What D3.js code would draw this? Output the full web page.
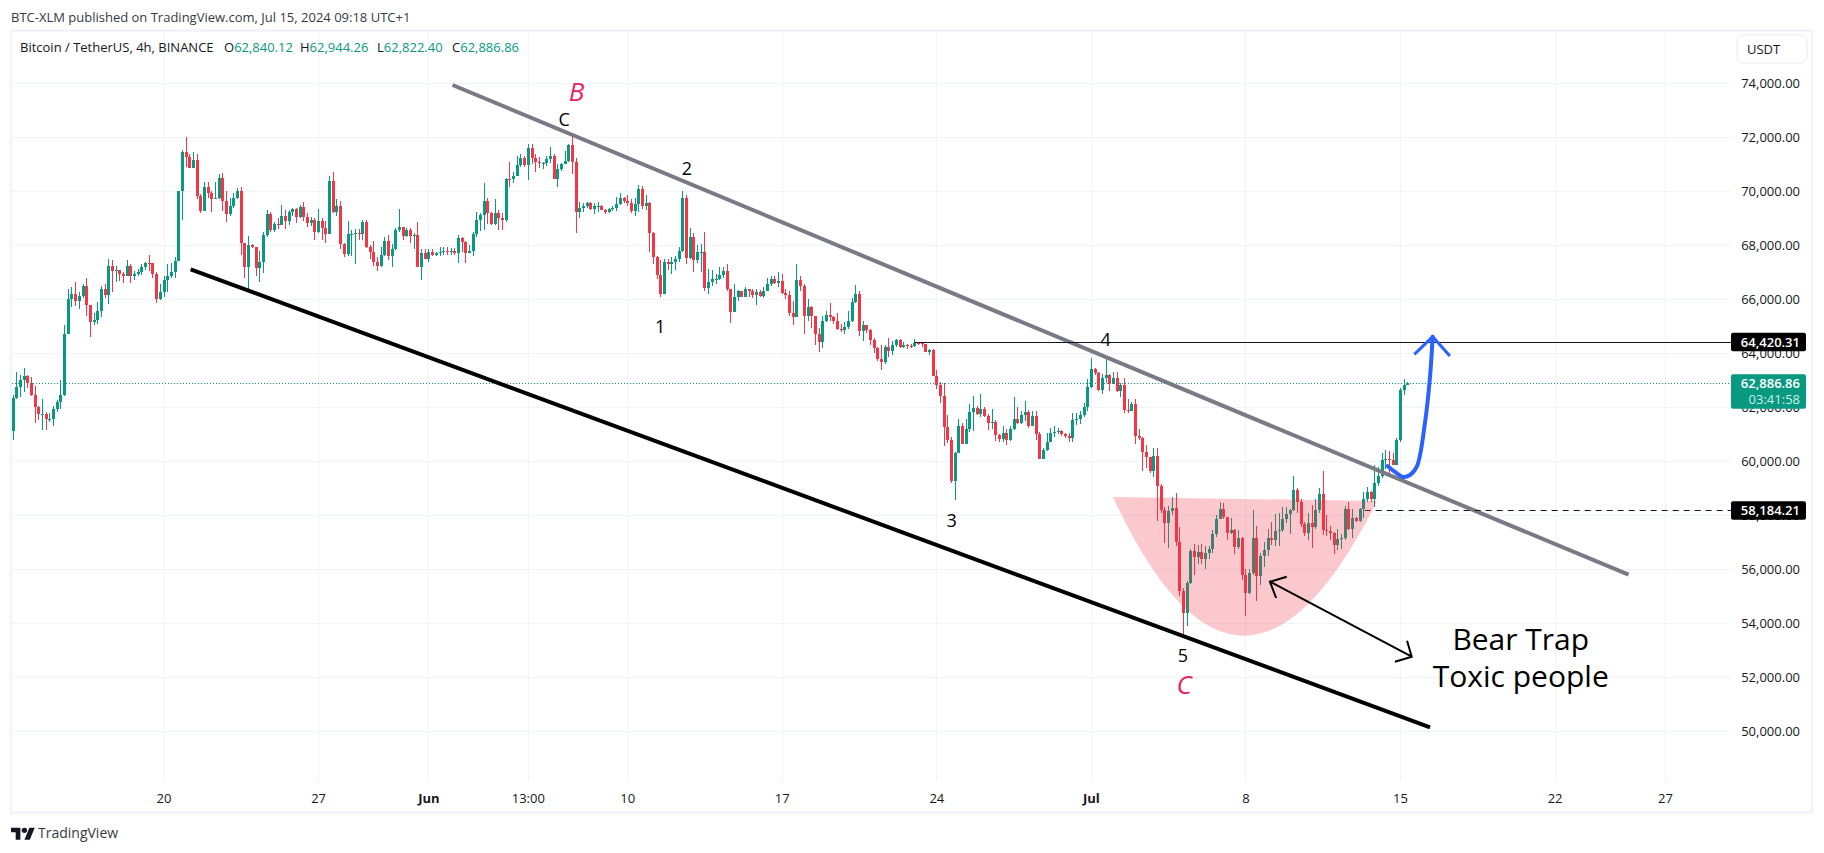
<!DOCTYPE html>
<html>
<head>
<meta charset="utf-8">
<title>BTCUSDT 4h</title>
<script src="https://cdn.jsdelivr.net/npm/d3@7"></script>
<style>
  html, body { margin: 0; padding: 0; background: #fff; }
  svg { display: block; font-family: "Open Sans", sans-serif; }
</style>
</head>
<body>
<svg id="chart" width="1824" height="853"></svg>
<script>
// 4h candles, in thousands of USDT. One bar per 4 hours from firstBar.
const firstBar = Date.UTC(2024, 4, 13, 4);
const firstOpen = 61.14;
const closes = [
  62.33,62.74,63.00,63.16,62.90,62.46,62.02,61.75,61.77,61.58,
  61.58,61.93,62.20,62.44,64.72,66.00,66.20,65.95,66.12,66.50,
  65.80,65.17,65.23,65.55,66.38,66.16,67.22,67.06,67.09,66.94,
  66.88,67.22,66.85,66.95,67.00,67.18,67.35,67.33,66.92,66.00,
  66.28,66.70,66.85,67.00,67.43,70.02,71.44,71.28,70.87,71.16,
  69.84,69.27,70.15,69.94,69.72,69.74,70.50,69.65,69.16,69.44,
  69.74,70.02,68.09,67.20,68.00,67.92,67.17,67.40,68.37,69.16,
  68.55,68.79,68.77,69.10,68.91,69.22,69.33,69.06,69.41,69.04,
  68.83,68.94,68.50,68.90,68.65,68.42,70.37,69.25,69.44,68.05,
  67.68,68.42,68.42,68.44,68.41,68.85,67.95,67.74,67.39,67.25,
  67.65,68.17,67.62,67.86,68.57,68.67,68.34,68.57,68.33,68.38,
  67.20,67.72,67.51,67.76,67.65,67.70,67.77,67.80,67.78,67.80,
  67.72,68.28,68.14,67.72,67.80,68.42,68.94,69.12,69.63,69.20,
  68.78,69.20,69.00,68.94,70.46,70.44,70.58,70.98,71.25,70.98,
  71.60,71.25,71.07,71.03,71.05,71.20,71.30,70.46,70.83,71.02,
  71.12,71.72,71.10,69.25,69.37,69.46,69.55,69.35,69.45,69.47,
  69.32,69.25,69.35,69.38,69.52,69.75,69.63,69.57,69.27,69.52,
  70.10,69.47,69.55,68.47,67.55,66.90,66.20,67.40,67.30,67.40,
  67.49,67.78,69.75,67.53,68.32,67.45,67.74,67.76,66.43,66.63,
  66.75,66.75,66.90,67.06,66.38,65.54,66.08,66.30,66.10,66.37,
  66.30,66.15,66.28,66.13,66.32,66.55,66.75,66.60,66.68,66.25,
  66.15,65.50,65.33,66.70,66.50,65.40,65.70,65.37,64.72,64.43,
  65.20,65.42,65.35,65.20,64.90,64.87,64.97,65.20,65.90,66.20,
  64.84,65.03,64.87,64.50,64.20,63.80,63.69,64.25,64.10,64.30,
  64.50,64.25,64.30,64.28,64.26,64.40,64.37,64.33,64.06,64.14,
  63.17,62.83,62.42,61.28,60.79,59.27,60.30,61.30,60.64,61.20,
  61.83,61.99,61.75,61.94,61.69,61.43,61.45,60.98,60.84,61.04,
  60.80,61.19,61.57,61.43,61.70,61.83,61.32,61.68,61.01,60.09,
  60.42,60.73,61.04,61.07,61.12,61.01,60.94,60.88,61.53,61.57,
  61.70,62.02,62.74,63.42,63.26,62.64,63.08,63.20,62.86,63.10,
  62.60,62.83,61.90,61.87,62.12,60.94,60.85,60.33,60.15,59.65,
  60.20,59.10,58.20,57.70,58.17,58.27,57.02,55.20,54.40,55.48,
  56.68,56.44,56.65,56.37,56.60,56.75,57.31,57.87,58.22,57.93,
  57.36,57.46,56.81,57.15,55.80,55.13,55.88,57.15,55.75,56.50,
  56.72,57.15,57.10,57.43,57.45,57.85,58.05,58.20,58.95,58.48,
  57.68,57.35,57.70,57.55,58.20,58.80,57.45,57.42,57.35,56.90,
  57.12,57.17,58.25,57.50,57.90,57.80,58.23,58.60,58.85,58.60,
  59.20,59.45,60.05,60.07,60.05,59.87,60.80,62.64,62.83,62.887
];
const highs = [
  62.46,63.30,63.20,63.46,63.20,63.12,62.80,62.05,62.30,61.82,
  61.78,62.05,62.27,63.00,65.05,66.40,66.44,66.64,66.27,66.57,
  66.78,65.80,65.50,65.90,66.50,66.57,67.50,67.46,67.22,67.10,
  67.00,67.45,67.30,67.05,67.12,67.30,67.37,67.65,67.35,67.00,
  66.57,66.85,67.30,67.35,67.55,70.02,71.53,72.00,71.40,71.45,
  71.40,69.90,70.35,70.35,70.00,70.35,70.65,70.68,70.02,69.75,
  69.95,70.12,70.15,68.10,68.35,68.05,67.95,67.80,68.50,69.30,
  69.25,68.85,69.00,69.50,69.30,69.30,69.40,69.40,69.50,69.60,
  69.20,69.05,69.00,69.35,69.00,68.90,70.55,70.70,69.70,69.65,
  68.10,68.90,68.55,68.60,68.60,68.95,68.95,68.00,68.15,67.55,
  67.95,68.30,68.40,68.05,68.65,69.35,68.67,68.65,68.65,68.45,
  68.85,67.85,67.85,67.85,67.85,67.75,67.95,67.95,67.95,67.90,
  67.90,68.40,68.30,68.15,68.00,68.50,69.22,69.20,70.30,69.75,
  69.25,69.70,69.30,69.20,70.50,71.07,70.70,71.30,71.40,71.30,
  71.75,71.75,71.40,71.28,71.10,71.30,71.65,71.40,71.00,71.05,
  71.50,71.75,72.00,71.25,69.60,69.55,69.60,69.60,69.55,69.60,
  69.50,69.35,69.40,69.45,69.80,69.95,69.80,69.85,69.70,69.75,
  70.25,70.20,69.85,69.60,68.50,67.60,67.45,67.50,67.50,67.55,
  67.60,67.95,70.00,69.85,68.65,68.46,68.00,68.05,68.50,67.12,
  67.10,66.95,67.20,67.20,67.30,66.40,66.55,66.35,66.30,66.45,
  66.40,66.40,66.40,66.35,66.45,66.80,66.85,66.85,67.00,66.95,
  66.40,66.30,65.95,67.30,66.85,66.55,66.00,65.75,65.40,64.95,
  65.40,65.55,65.85,65.40,65.50,65.10,65.15,65.55,66.05,66.53,
  66.32,65.20,65.05,64.90,64.55,64.25,64.30,64.30,64.55,64.47,
  64.52,64.52,64.42,64.35,64.33,64.52,64.42,64.42,64.35,64.17,
  64.15,63.40,62.95,62.90,61.72,60.90,60.35,61.55,61.41,61.56,
  62.12,62.42,62.05,62.48,62.00,61.75,61.95,61.52,61.00,61.31,
  61.21,61.30,62.37,62.00,61.85,62.22,61.90,61.85,61.85,61.10,
  60.50,61.06,61.22,61.30,61.25,61.15,61.05,61.05,61.80,61.80,
  61.85,62.15,63.05,63.81,63.45,63.30,63.25,63.82,63.25,63.30,
  63.30,62.90,63.10,62.30,62.20,62.30,61.20,60.90,60.60,60.15,
  60.50,60.48,59.15,58.30,58.35,58.69,58.84,57.55,55.30,55.55,
  56.75,56.95,56.90,56.95,56.85,56.85,57.45,58.01,58.50,58.45,
  57.95,57.90,57.50,57.46,57.20,56.00,56.00,58.20,57.60,56.60,
  57.00,57.50,57.75,58.05,58.10,58.30,58.30,58.25,59.45,59.00,
  58.60,57.75,58.10,58.40,58.60,59.00,59.65,58.00,57.60,57.40,
  57.50,57.30,58.35,58.50,58.25,57.95,58.27,58.88,59.05,58.90,
  59.86,59.80,60.32,60.42,60.40,60.30,60.85,62.70,63.05,62.944
];
const lows = [
  60.80,62.30,62.40,62.58,62.73,62.43,61.43,61.53,61.17,61.17,
  61.47,61.32,61.84,61.95,62.43,64.70,65.73,65.75,65.65,66.05,
  65.40,64.62,65.05,65.10,65.35,66.05,65.83,66.26,66.63,66.67,
  66.60,66.85,66.60,66.70,66.85,66.90,67.10,67.05,66.80,65.85,
  65.98,66.07,66.28,66.80,66.80,67.43,68.95,70.90,70.87,70.87,
  69.70,69.20,69.27,69.77,69.22,69.70,69.70,69.28,68.88,69.10,
  69.40,69.70,67.64,66.80,66.40,67.90,66.88,66.65,66.96,68.30,
  68.50,68.50,68.60,68.75,68.60,68.75,69.10,68.83,69.00,68.90,
  68.67,68.70,68.20,68.45,68.20,68.10,68.42,69.20,69.10,67.85,
  67.55,67.60,67.60,67.30,68.20,68.20,67.90,67.50,67.25,67.05,
  67.20,67.60,67.45,67.20,67.82,68.50,68.20,68.30,68.10,67.85,
  67.20,66.72,67.50,67.40,67.60,67.60,67.60,67.65,67.65,67.65,
  67.65,67.35,67.75,67.35,67.70,67.60,68.30,68.54,68.55,68.80,
  68.75,68.75,68.55,68.55,68.85,70.15,70.30,70.55,70.90,70.90,
  70.43,71.00,70.73,70.85,70.83,70.95,71.05,70.45,70.17,70.75,
  71.00,71.10,70.64,68.47,69.00,69.25,69.40,69.30,69.15,69.25,
  69.30,69.15,69.20,69.27,69.27,69.50,69.55,69.45,69.20,69.10,
  69.25,69.35,69.30,67.75,67.30,66.75,66.10,66.20,67.10,66.94,
  67.10,67.40,67.75,67.30,67.50,67.00,67.35,67.00,66.30,66.20,
  66.50,66.55,66.70,66.80,66.30,65.12,65.54,65.95,66.10,66.10,
  66.10,66.05,65.80,66.10,66.05,66.30,66.50,66.55,66.45,66.20,
  66.00,65.40,65.05,65.33,66.30,64.70,65.20,64.95,64.32,64.05,
  64.20,65.15,65.20,65.10,64.85,64.80,64.70,64.90,65.15,65.85,
  64.65,64.45,64.75,64.30,64.00,63.70,63.38,63.60,63.85,63.94,
  64.25,64.20,64.20,64.15,64.20,64.24,64.30,64.25,64.04,63.93,
  63.17,62.67,62.15,60.57,60.69,59.20,58.57,60.30,60.64,60.64,
  61.10,61.12,61.72,61.65,61.65,61.16,61.20,60.75,60.70,60.70,
  60.60,60.76,61.15,61.40,61.38,61.50,61.25,61.30,60.80,60.09,
  60.07,60.40,60.70,60.90,61.00,60.95,60.85,60.70,60.70,61.35,
  61.40,61.65,61.85,62.70,63.20,62.60,62.48,62.90,62.60,62.85,
  62.55,62.40,61.80,61.80,61.85,60.65,60.80,59.65,59.77,59.55,
  59.43,57.80,58.10,56.96,56.80,58.00,56.86,55.00,53.57,53.90,
  55.45,55.79,56.20,56.20,56.00,56.40,56.60,57.20,57.85,57.85,
  57.09,57.30,56.57,56.75,55.60,54.28,55.10,55.80,54.84,55.42,
  56.10,56.50,56.90,56.85,56.85,57.40,57.70,57.30,58.15,58.10,
  57.55,57.25,57.10,56.80,57.50,58.10,57.27,57.25,57.10,56.55,
  56.70,56.75,57.10,57.45,57.17,57.75,57.75,57.90,58.50,58.50,
  58.30,59.10,59.40,59.70,59.50,59.85,59.87,60.70,62.45,62.822
];

const yTicks = d3.range(50000, 74001, 2000);
const timeTicks = [
  [Date.UTC(2024, 4, 20), "20"], [Date.UTC(2024, 4, 27), "27"], [Date.UTC(2024, 5, 1), "Jun"],
  [Date.UTC(2024, 5, 5, 12), "13:00"], [Date.UTC(2024, 5, 10), "10"], [Date.UTC(2024, 5, 17), "17"],
  [Date.UTC(2024, 5, 24), "24"], [Date.UTC(2024, 6, 1), "Jul"], [Date.UTC(2024, 6, 8), "8"],
  [Date.UTC(2024, 6, 15), "15"], [Date.UTC(2024, 6, 22), "22"], [Date.UTC(2024, 6, 27), "27"]
];

// drawings, as [days after May 20, price]
const grayLine = [[13.09, 73937], [66.35, 55800]];
const blackLine = [[1.23, 67111], [57.36, 50148]];
const blueCurve = [[55.44, 59826], [55.77, 59604], [56.14, 59418], [56.45, 59493], [56.76, 59800], [57.13, 61419], [57.36, 63134], [57.48, 64615]];
const blueHead = [[56.65, 63963], [57.48, 64615], [58.26, 63900]];
const trapShaft = [[50.11, 55541], [56.53, 52762]];
const trapHeadA = [[50.87, 55726], [50.11, 55541], [50.39, 54937]];
const trapHeadB = [[56.32, 53355], [56.53, 52762], [55.77, 52577]];
const bowl = { start: [43.0, 58678], control: [48.8, 48477], end: [54.96, 58530] };
const lastPrice = 62886.86;
const resistance = { day: 34.0, price: 64420.31 };
const support = { day: 54.4, price: 58184.21 };
const waveLabels = [
  { text: "C", at: [18.15, 72679], size: 18, color: "#000" },
  { text: "2", at: [23.7, 70864], size: 18, color: "#000" },
  { text: "1", at: [22.49, 65011], size: 18, color: "#000" },
  { text: "3", at: [35.69, 57826], size: 18, color: "#000" },
  { text: "4", at: [42.67, 64519], size: 18, color: "#000" },
  { text: "5", at: [46.17, 52826], size: 18, color: "#000" },
  { text: "B", at: [18.71, 73727], size: 26, color: "#e91e63", italic: true },
  { text: "C", at: [46.22, 51752], size: 26, color: "#e91e63", italic: true },
  { text: "Bear Trap", at: [61.47, 53455], size: 30, color: "#000" },
  { text: "Toxic people", at: [61.47, 52085], size: 30, color: "#000" }
];

const paneLeft = 12, paneRight = 1731, paneTop = 32, paneBottom = 782;
const up = "#089981", down = "#f23645", grid = "#f0f3fa", ink = "#131722";

const x = d3.scaleUtc().domain([Date.UTC(2024, 4, 20), Date.UTC(2024, 6, 15)]).range([163.5, 1400]);
const y = d3.scaleLinear().domain([50000, 74000]).range([731.3, 83.3]);
const dayX = d => x(Date.UTC(2024, 4, 20) + d * 864e5);
const at = p => [dayX(p[0]), y(p[1])];
const crispY = v => Math.round(y(v)) + 0.5;
const line = d3.line().x(d => at(d)[0]).y(d => at(d)[1]);

const bars = closes.map((c, i) => ({
  time: firstBar + i * 4 * 36e5,
  open: (i ? closes[i - 1] : firstOpen) * 1000,
  close: c * 1000,
  high: highs[i] * 1000,
  low: lows[i] * 1000
}));

const svg = d3.select("#chart");

// frame
svg.append("rect").attr("x", 11).attr("y", 30.5).attr("width", 1801).attr("height", 782)
  .attr("fill", "#fff").attr("stroke", "#f0f3fa").attr("stroke-width", 2.5);

// grid
const gridG = svg.append("g").attr("stroke", grid).attr("stroke-width", 1).attr("shape-rendering", "crispEdges");
gridG.selectAll(".h").data(yTicks).join("line").attr("class", "h")
  .attr("x1", paneLeft).attr("x2", paneRight).attr("y1", d => Math.round(y(d))).attr("y2", d => Math.round(y(d)));
gridG.selectAll(".v").data(timeTicks).join("line").attr("class", "v")
  .attr("y1", paneTop).attr("y2", paneBottom).attr("x1", d => Math.round(x(d[0]))).attr("x2", d => Math.round(x(d[0])));

// last price dotted line
svg.append("line").attr("x1", paneLeft).attr("x2", paneRight).attr("y1", crispY(lastPrice)).attr("y2", crispY(lastPrice))
  .attr("stroke", up).attr("stroke-width", 1).attr("stroke-dasharray", "1 2");

// candles
const candle = svg.append("g").selectAll("g").data(bars).join("g")
  .attr("fill", d => d.close >= d.open ? up : down)
  .attr("shape-rendering", "crispEdges");
candle.append("rect")
  .attr("x", d => Math.round(x(d.time)))
  .attr("width", 1)
  .attr("y", d => y(d.high))
  .attr("height", d => y(d.low) - y(d.high));
candle.append("rect")
  .attr("x", d => Math.round(x(d.time)) - 1)
  .attr("width", 3)
  .attr("y", d => y(Math.max(d.open, d.close)))
  .attr("height", d => Math.max(1, Math.abs(y(d.open) - y(d.close))));

// trend lines
svg.append("path").attr("d", line(blackLine)).attr("fill", "none").attr("stroke", "#000").attr("stroke-width", 4);
svg.append("path").attr("d", line(grayLine)).attr("fill", "none").attr("stroke", "#787b86").attr("stroke-width", 4);

// horizontal levels
svg.append("line").attr("x1", dayX(resistance.day)).attr("x2", paneRight)
  .attr("y1", crispY(resistance.price)).attr("y2", crispY(resistance.price)).attr("stroke", ink).attr("stroke-width", 1);
svg.append("line").attr("x1", dayX(support.day)).attr("x2", paneRight)
  .attr("y1", crispY(support.price)).attr("y2", crispY(support.price)).attr("stroke", ink).attr("stroke-width", 1)
  .attr("stroke-dasharray", "6 5");

// bowl
const bowlPath = d3.path();
bowlPath.moveTo(...at(bowl.start));
bowlPath.quadraticCurveTo(...at(bowl.control), ...at(bowl.end));
bowlPath.closePath();
svg.append("path").attr("d", bowlPath.toString()).attr("fill", "#f23645").attr("fill-opacity", 0.27);

// arrows
svg.append("path").attr("d", line.curve(d3.curveCatmullRom)(blueCurve)).attr("fill", "none")
  .attr("stroke", "#2962ff").attr("stroke-width", 4).attr("stroke-linecap", "round");
line.curve(d3.curveLinear);
svg.append("path").attr("d", line(blueHead)).attr("fill", "none")
  .attr("stroke", "#2962ff").attr("stroke-width", 3);
[trapShaft, trapHeadA, trapHeadB].forEach(pts => {
  svg.append("path").attr("d", line(pts)).attr("fill", "none").attr("stroke", "#000").attr("stroke-width", 2);
});

// labels on the chart
svg.append("g").selectAll("text").data(waveLabels).join("text")
  .attr("x", d => at(d.at)[0]).attr("y", d => at(d.at)[1])
  .attr("text-anchor", "middle").attr("dominant-baseline", "central")
  .attr("font-size", d => d.size).attr("font-style", d => d.italic ? "italic" : null)
  .attr("fill", d => d.color).text(d => d.text);

// price axis
const yAxis = svg.append("g").attr("transform", `translate(${1800},0)`)
  .call(d3.axisLeft(y).tickValues(yTicks).tickSize(0).tickFormat(d3.format(",.2f")));
yAxis.select(".domain").remove();
yAxis.selectAll("text").attr("x", 0).attr("font-size", 13).attr("font-family", "Open Sans").attr("fill", ink);

// time axis
const xAxis = svg.append("g").attr("transform", `translate(0,${paneBottom})`)
  .call(d3.axisBottom(x).tickValues(timeTicks.map(d => d[0])).tickSize(0)
    .tickFormat((d, i) => timeTicks[i][1]));
xAxis.select(".domain").remove();
xAxis.selectAll("text").attr("y", 16).attr("dy", "0.35em").attr("font-size", 13).attr("font-family", "Open Sans")
  .attr("fill", ink).attr("font-weight", (d, i) => /[A-Z]/.test(timeTicks[i][1]) ? 700 : 400);

// price tags
function tag(price, h, bg, lines) {
  const top = y(price) - 9.2;
  svg.append("rect").attr("x", paneRight).attr("y", top).attr("width", 75).attr("height", h).attr("rx", 2).attr("fill", bg);
  lines.forEach((l, i) => {
    svg.append("text").attr("x", 1800).attr("y", top + 14 + i * 16).attr("text-anchor", "end")
      .attr("font-size", 13).attr("font-weight", i ? 400 : 600).attr("fill", i ? "#cdeee8" : "#fff").text(l);
  });
}
const priceFmt = d3.format(",.2f");
tag(resistance.price, 18.4, "#000", [priceFmt(resistance.price)]);
tag(lastPrice, 34.7, up, [priceFmt(lastPrice), "03:41:58"]);
tag(support.price, 18.6, "#000", [priceFmt(support.price)]);

// USDT button
svg.append("rect").attr("x", 1737).attr("y", 35).attr("width", 70).attr("height", 28).attr("rx", 6)
  .attr("fill", "#fff").attr("stroke", "#e8eaf2").attr("stroke-width", 1);
svg.append("text").attr("x", 1747).attr("y", 54).attr("font-size", 13).attr("fill", ink).text("USDT");

// header and legend
svg.append("text").attr("x", 11).attr("y", 22).attr("font-size", 13).attr("fill", "#363a45")
  .text("BTC-XLM published on TradingView.com, Jul 15, 2024 09:18 UTC+1");
svg.append("text").attr("x", 20).attr("y", 52).attr("font-size", 13).attr("fill", ink)
  .text("Bitcoin / TetherUS, 4h, BINANCE");
const ohlc = [["O", "62,840.12", 224], ["H", "62,944.26", 300], ["L", "62,822.40", 377], ["C", "62,886.86", 452]];
ohlc.forEach(([k, v, px]) => {
  const t = svg.append("text").attr("x", px).attr("y", 52).attr("font-size", 13).attr("fill", ink);
  t.append("tspan").text(k);
  t.append("tspan").attr("fill", up).text(v);
});

// logo
const logo = svg.append("g").attr("transform", "translate(11,825) scale(0.67)").attr("fill", "#131722");
logo.append("path").attr("d", "M14 22H7V11H0V4h14v18zM28 22h-8l7.5-18h8L28 22z");
logo.append("circle").attr("cx", 20).attr("cy", 8).attr("r", 4);
svg.append("text").attr("x", 38).attr("y", 838).attr("font-size", 14).attr("fill", "#363a45").text("TradingView");
</script>
</body>
</html>
